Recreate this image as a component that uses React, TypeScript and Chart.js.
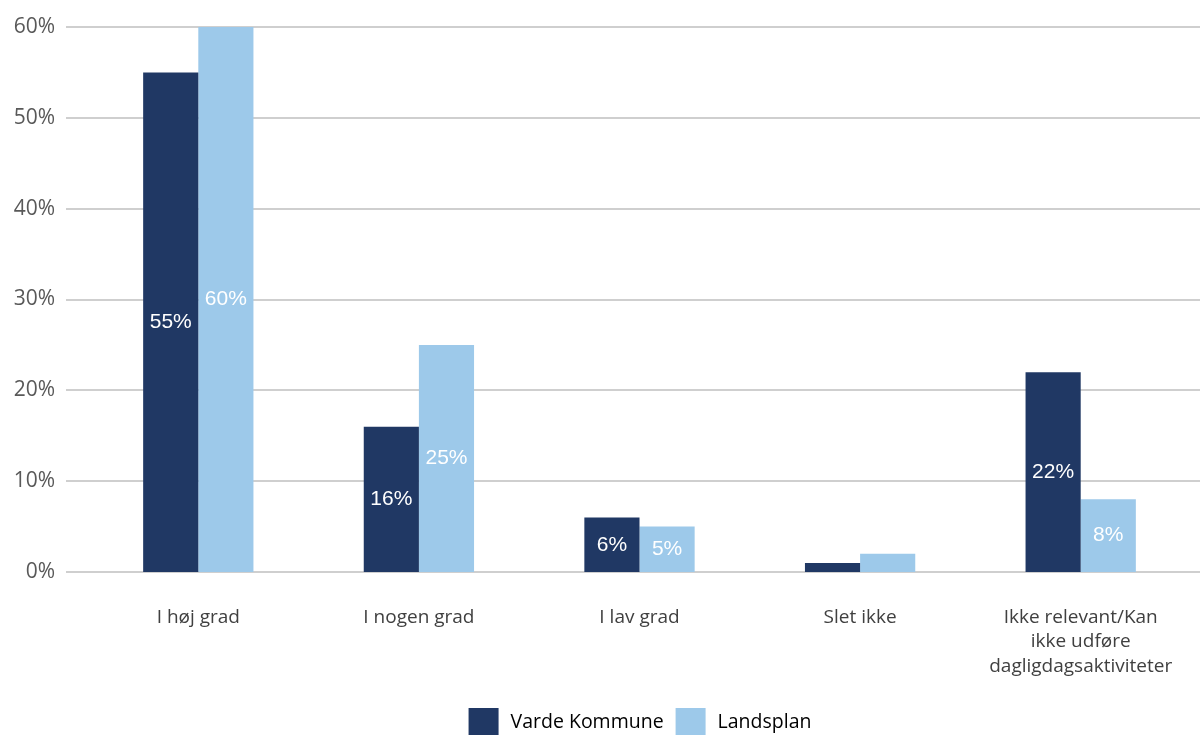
import React, { useEffect, useRef } from "react";
import { Chart, registerables } from "chart.js";

Chart.register(...registerables);

const categories: (string | string[])[] = [
  "I høj grad",
  "I nogen grad",
  "I lav grad",
  "Slet ikke",
  ["Ikke relevant/Kan", "ikke udføre", "dagligdagsaktiviteter"],
];
const vardeValues = [55, 16, 6, 1, 22];
const landsplanValues = [60, 25, 5, 2, 8];
const seriesNames = ["Varde Kommune", "Landsplan"];
const yTicks = [0, 10, 20, 30, 40, 50, 60];

const DARK = "#203864";
const LIGHT = "#9DC9EA";

const gridPlugin = {
  id: "extGrid",
  beforeDatasetsDraw(chart: any) {
    const y = chart.scales.y;
    const ctx = chart.ctx;
    ctx.save();
    ctx.strokeStyle = "#CFCFCF";
    ctx.lineWidth = 2;
    yTicks.forEach((v) => {
      const py = Math.round(y.getPixelForValue(v));
      ctx.beginPath();
      ctx.moveTo(66, py);
      ctx.lineTo(chart.width, py);
      ctx.stroke();
    });
    ctx.restore();
  },
};

const labelPlugin = {
  id: "barLabels",
  afterDatasetsDraw(chart: any) {
    const ctx = chart.ctx;
    ctx.save();
    ctx.fillStyle = "#FFFFFF";
    ctx.font = "21px 'Liberation Sans', Arial, sans-serif";
    ctx.textAlign = "center";
    ctx.textBaseline = "middle";
    chart.data.datasets.forEach((ds: any, di: number) => {
      const meta = chart.getDatasetMeta(di);
      meta.data.forEach((bar: any, i: number) => {
        const v = ds.data[i];
        if (v < 3) return;
        const cy = (bar.y + bar.base) / 2;
        ctx.fillText(v + "%", bar.x, cy);
      });
    });
    ctx.restore();
  },
};

const legendPlugin = {
  id: "customLegend",
  afterDraw(chart: any) {
    const ctx = chart.ctx;
    ctx.save();
    ctx.font = "19.5px 'Open Sans', sans-serif";
    ctx.textBaseline = "middle";
    ctx.textAlign = "left";
    const box = 30;
    const gap = 12;
    const ds = chart.data.datasets;
    const widths = ds.map((d: any) => ctx.measureText(d.label).width);
    let total = 0;
    widths.forEach((w: number, i: number) => {
      total += box + gap + w + (i < widths.length - 1 ? gap : 0);
    });
    let x = 640 - total / 2;
    const top = 708;
    ds.forEach((d: any, i: number) => {
      ctx.fillStyle = d.backgroundColor;
      ctx.fillRect(x, top, box, 27);
      x += box + gap;
      ctx.fillStyle = "#000000";
      ctx.fillText(d.label, x, top + 14);
      x += widths[i] + gap;
    });
    ctx.restore();
  },
};

export default function App() {
  const ref = useRef<HTMLCanvasElement | null>(null);
  useEffect(() => {
    if (!ref.current) return;
    const chart = new Chart(ref.current, {
      type: "bar",
      data: {
        labels: categories,
        datasets: [
          {
            label: seriesNames[0],
            data: vardeValues,
            backgroundColor: DARK,
            borderWidth: 0,
            categoryPercentage: 0.5,
            barPercentage: 1,
          },
          {
            label: seriesNames[1],
            data: landsplanValues,
            backgroundColor: LIGHT,
            borderWidth: 0,
            categoryPercentage: 0.5,
            barPercentage: 1,
          },
        ],
      },
      options: {
        animation: false,
        responsive: true,
        maintainAspectRatio: false,
        layout: { padding: { top: 27, right: 9, left: 0, bottom: 40 } },
        plugins: {
          legend: { display: false },
          tooltip: { enabled: false },
        },
        scales: {
          y: {
            min: 0,
            max: 60,
            ticks: {
              stepSize: 10,
              padding: 33,
              color: "#595959",
              font: { size: 21, family: "'Open Sans', sans-serif" },
              callback: (v: any) => v + "%",
            },
            grid: { display: false, drawTicks: false },
            border: { display: false },
            afterFit: (s: any) => {
              s.width = 88;
              s.paddingTop = 0;
              s.paddingBottom = 0;
            },
          },
          x: {
            ticks: {
              padding: 33,
              autoSkip: false,
              maxRotation: 0,
              color: "#404040",
              font: { size: 19, family: "'Open Sans', sans-serif", lineHeight: 1.3 },
            },
            grid: { display: false, drawTicks: false },
            border: { display: false },
            afterFit: (s: any) => {
              s.height = 124;
              s.paddingLeft = 0;
              s.paddingRight = 0;
            },
          },
        },
      },
      plugins: [gridPlugin, labelPlugin, legendPlugin],
    });
    return () => chart.destroy();
  }, []);
  return (
    <div style={{ position: "absolute", left: 0, top: 0, width: 1200, height: 736, background: "#fff" }}>
      <canvas ref={ref} />
    </div>
  );
}
